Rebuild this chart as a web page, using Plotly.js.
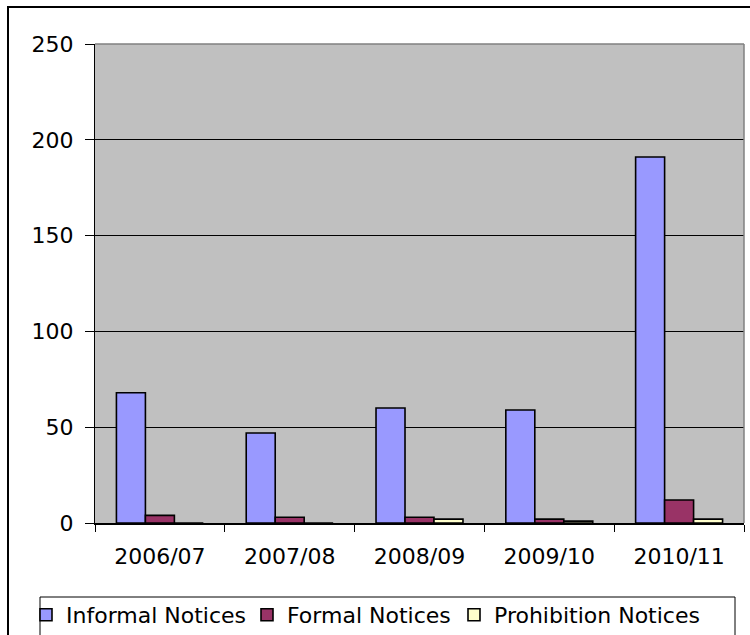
<!DOCTYPE html>
<html>
<head>
<meta charset="utf-8">
<script src="https://cdn.plot.ly/plotly-3.0.1.min.js"></script>
<style>
  html, body { margin: 0; padding: 0; background: #ffffff; }
  #chart { width: 750px; height: 635px; }
</style>
</head>
<body>
<div id="chart"></div>
<script>
// Notices issued per financial year
const years = ["2006/07", "2007/08", "2008/09", "2009/10", "2010/11"];
const informalNotices = [68, 47, 60, 59, 191];
const formalNotices = [4, 3, 3, 2, 12];
const prohibitionNotices = [0, 0, 2, 1, 2];
const yTicks = [0, 50, 100, 150, 200, 250];

const FONT = "'DejaVu Sans', Arial, sans-serif";
const FONT_SIZE = 22;
const W = 750, H = 635;

// plot area in pixels: left 95, right 744, top 44, bottom 523
const PLOT = { l: 95, r: 744, t: 44, b: 523 };
const px = x => (x - PLOT.l) / (PLOT.r - PLOT.l);
const py = y => (PLOT.b - y) / (PLOT.b - PLOT.t);

const series = [
  { name: "Informal Notices", values: informalNotices, color: "#9999FF", legend: "legend", left: 26 },
  { name: "Formal Notices", values: formalNotices, color: "#993366", legend: "legend2", left: 247 },
  { name: "Prohibition Notices", values: prohibitionNotices, color: "#FFFFCC", legend: "legend3", left: 454 }
];

const traces = series.map(s => ({
  type: "bar",
  name: s.name,
  legend: s.legend,
  x: years,
  y: s.values,
  marker: { color: s.color, line: { color: "#000000", width: 1.6 } },
  hoverinfo: "x+y+name"
}));

// each legend entry is placed on its own, relative to the whole figure
function legendAt(left) {
  return {
    orientation: "h",
    xref: "container", yref: "container",
    x: left / W, xanchor: "left",
    y: 1 - 615 / H, yanchor: "middle",
    bgcolor: "rgba(0,0,0,0)",
    borderwidth: 0,
    font: { family: FONT, size: FONT_SIZE, color: "#000000" },
    itemwidth: 30
  };
}

const layout = {
  width: W,
  height: H,
  margin: { l: PLOT.l, r: W - PLOT.r, t: PLOT.t, b: H - PLOT.b, pad: 0, autoexpand: false },
  paper_bgcolor: "#ffffff",
  plot_bgcolor: "#C0C0C0",
  font: { family: FONT, size: FONT_SIZE, color: "#000000" },
  barmode: "group",
  bargap: 0.33,
  bargroupgap: 0,
  showlegend: true,
  legend: legendAt(series[0].left),
  legend2: legendAt(series[1].left),
  legend3: legendAt(series[2].left),
  xaxis: {
    type: "category",
    showline: true, linecolor: "#000000", linewidth: 1.5,
    ticks: "outside", tickson: "boundaries", ticklen: 7, tickcolor: "#000000", tickwidth: 1,
    ticklabelstandoff: 13,
    showgrid: false, zeroline: false,
    tickfont: { family: FONT, size: FONT_SIZE, color: "#000000" },
    fixedrange: true
  },
  yaxis: {
    range: [0, 250],
    tickvals: yTicks,
    ticktext: yTicks.map(String),
    showline: true, linecolor: "#000000", linewidth: 1,
    ticks: "outside", ticklen: 9, tickcolor: "#000000", tickwidth: 1,
    ticklabelstandoff: 7,
    showgrid: true, gridcolor: "#000000", gridwidth: 1,
    zeroline: false,
    tickfont: { family: FONT, size: FONT_SIZE, color: "#000000" },
    fixedrange: true
  },
  shapes: [
    // grey frame on the top and right of the plotting area
    { type: "line", xref: "paper", yref: "paper", x0: 0, x1: 1, y0: 1, y1: 1,
      line: { color: "#808080", width: 1.5 }, layer: "above" },
    { type: "line", xref: "paper", yref: "paper", x0: 1, x1: 1, y0: 0, y1: 1,
      line: { color: "#808080", width: 1.5 }, layer: "above" },
    // outer chart frame
    { type: "rect", xref: "paper", yref: "paper",
      x0: px(8), x1: px(820), y0: py(720), y1: py(7),
      line: { color: "#000000", width: 2 }, fillcolor: "rgba(0,0,0,0)", layer: "below" },
    // legend box
    { type: "rect", xref: "paper", yref: "paper",
      x0: px(40), x1: px(735), y0: py(720), y1: py(597),
      line: { color: "#000000", width: 1 }, fillcolor: "#ffffff", layer: "below" }
  ]
};

Plotly.newPlot("chart", traces, layout, { displayModeBar: false, staticPlot: true });
</script>
</body>
</html>
